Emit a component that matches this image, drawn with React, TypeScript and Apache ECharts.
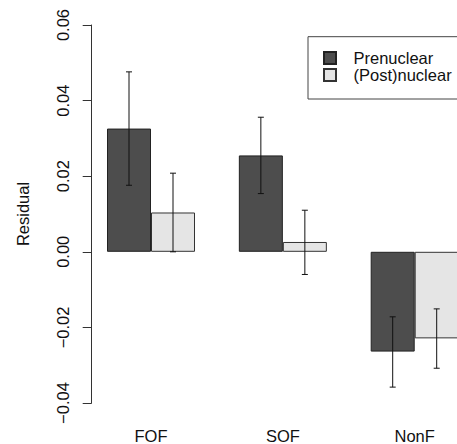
import React, { useEffect, useRef } from "react";
import * as echarts from "echarts";

const categories = ["FOF", "SOF", "NonF"];
const seriesNames = ["Prenuclear", "(Post)nuclear"];
const preValues = [0.0326, 0.0255, -0.0264];
const postValues = [0.0104, 0.0026, -0.0229];
const preLow = [0.0176, 0.0154, -0.0358];
const preHigh = [0.0476, 0.0356, -0.0172];
const postLow = [0.0, -0.006, -0.0308];
const postHigh = [0.0208, 0.011, -0.0151];
const yMin = -0.04;
const yMax = 0.06;
const yStep = 0.02;

const FONT = "'Liberation Sans', Arial, Helvetica, sans-serif";
const BAR_W = 44;
const X_MIN = -0.4498;
const X_MAX = 2.3208;

function errorSeries(low: number[], high: number[], offset: number) {
  return {
    type: "custom",
    silent: true,
    z: 5,
    clip: false,
    data: low.map((l, i) => [i, l, high[i]]),
    renderItem: (params: any, api: any) => {
      const idx = api.value(0);
      const pLow = api.coord([idx, api.value(1)]);
      const pHigh = api.coord([idx, api.value(2)]);
      const x = pLow[0] + offset;
      const cap = 3;
      const style = { stroke: "#111", lineWidth: 1 };
      return {
        type: "group",
        children: [
          { type: "line", shape: { x1: x, y1: pLow[1], x2: x, y2: pHigh[1] }, style },
          { type: "line", shape: { x1: x - cap, y1: pLow[1], x2: x + cap, y2: pLow[1] }, style },
          { type: "line", shape: { x1: x - cap, y1: pHigh[1], x2: x + cap, y2: pHigh[1] }, style },
        ],
      };
    },
  };
}

export default function App() {
  const ref = useRef<HTMLDivElement>(null);
  useEffect(() => {
    document.body.style.margin = "0";
    const chart = echarts.init(ref.current!, undefined, { renderer: "svg" });
    chart.setOption({
      animation: false,
      backgroundColor: "#ffffff",
      textStyle: { fontFamily: FONT },
      grid: { left: 91.7, top: 25, right: 0, height: 381 },
      legend: {
        data: seriesNames,
        orient: "vertical",
        left: 308,
        top: 36.7,
        itemWidth: 12,
        itemHeight: 12,
        itemGap: 0,
        icon: "rect",
        borderColor: "#444",
        borderWidth: 1,
        padding: [12.8, 30, 15.5, 15],
        textStyle: {
          fontFamily: FONT,
          fontSize: 16.5,
          color: "#111",
          lineHeight: 14,
          padding: [0, 0, 0, 12.5],
        },
      },
      xAxis: {
        type: "value",
        min: X_MIN,
        max: X_MAX,
        axisLine: { show: false, onZero: false },
        axisTick: { show: false },
        splitLine: { show: false },
        axisLabel: {
          customValues: categories.map((_, i) => i),
          formatter: (v: number) => categories[Math.round(v)] ?? "",
          color: "#111",
          fontSize: 16.5,
          fontFamily: FONT,
          margin: 24,
        },
      },
      yAxis: {
        type: "value",
        min: yMin,
        max: yMax,
        interval: yStep,
        name: "Residual",
        nameLocation: "middle",
        nameGap: 60,
        nameRotate: 90,
        nameTextStyle: { color: "#111", fontSize: 16.5, fontFamily: FONT },
        axisLine: { show: true, onZero: false, lineStyle: { color: "#333", width: 1 } },
        axisTick: { show: true, inside: false, length: 9, lineStyle: { color: "#333", width: 1 } },
        splitLine: { show: false },
        axisLabel: {
          rotate: 90,
          margin: 20,
          color: "#111",
          fontSize: 16.5,
          fontFamily: FONT,
          formatter: (v: number) => {
            const s = Math.abs(v).toFixed(2);
            return v < -1e-9 ? "\u2212" + s : s;
          },
        },
      },
      series: [
        {
          name: seriesNames[0],
          type: "bar",
          data: preValues.map((v, i) => [i, v]),
          barWidth: BAR_W,
          barGap: "0%",
          itemStyle: { color: "#4d4d4d", borderColor: "#222", borderWidth: 1 },
        },
        {
          name: seriesNames[1],
          type: "bar",
          data: postValues.map((v, i) => [i, v]),
          barWidth: BAR_W,
          barGap: "0%",
          itemStyle: { color: "#e5e5e5", borderColor: "#333", borderWidth: 1 },
        },
        errorSeries(preLow, preHigh, -BAR_W / 2),
        errorSeries(postLow, postHigh, BAR_W / 2),
      ],
    });
    return () => chart.dispose();
  }, []);
  return <div ref={ref} style={{ width: 457, height: 444 }} />;
}
